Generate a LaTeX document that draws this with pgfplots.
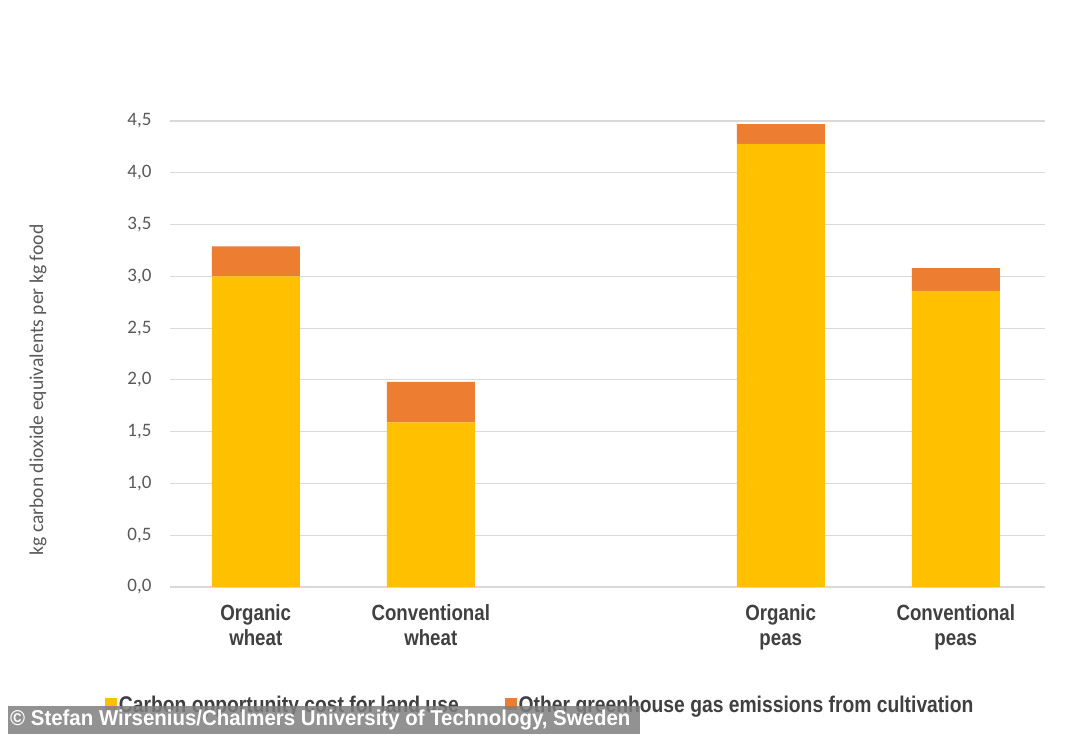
\documentclass[border=0pt]{standalone}
\usepackage{pgfplots}
\pgfplotsset{compat=1.18}
\usepackage{fontspec}
\setmainfont{Carlito}
\newfontfamily\condb{Liberation Sans}[FakeStretch=0.85]
\newfontfamily\condw{Liberation Sans}[FakeStretch=0.95]
\definecolor{cyel}{HTML}{FFC000}
\definecolor{corg}{HTML}{ED7D31}
\definecolor{txtgray}{HTML}{595959}
\definecolor{lbl}{HTML}{404040}
\definecolor{gridc}{HTML}{D9D9D9}
\begin{document}
\begin{tikzpicture}[x=1pt,y=1pt]
\path[use as bounding box, fill=white] (0,0) rectangle (1080,746);
\begin{axis}[
  at={(170pt,159pt)}, anchor=south west,
  scale only axis, width=875pt, height=466pt,
  ybar stacked, bar width=88pt,
  xmin=-0.49, xmax=4.51, ymin=0, ymax=4.5,
  xtick={0,1,3,4},
  xticklabels={Organic\\wheat, Conventional\\wheat, Organic\\peas, Conventional\\peas},
  xticklabel style={align=center, font=\condb\bfseries\fontsize{22}{25}\selectfont, text=lbl, yshift=-14pt},
  ytick={0,0.5,1,1.5,2,2.5,3,3.5,4,4.5},
  yticklabel style={font=\fontsize{19}{21}\selectfont, text=txtgray, xshift=-15pt},
  /pgf/number format/.cd, fixed, fixed zerofill, precision=1, use comma, assume math mode=true,
  /pgfplots/.cd,
  ymajorgrids, grid style={draw=gridc, line width=1.2pt},
  axis line style={draw=none}, major tick length=0pt,
  legend columns=2,
  legend style={draw=none, fill=none, at={(0.423,-0.253)}, anchor=center,
    font=\condb\bfseries\fontsize{22.7}{26}\selectfont, text=lbl,
    /tikz/every even column/.append style={column sep=44pt}},
  legend image code/.code={\fill[#1] (-5pt,-5pt) rectangle (7pt,7pt);},
]
\addplot[fill=cyel, draw=none] coordinates {(0,3.00) (1,1.59) (3,4.28) (4,2.86)};
\addplot[fill=corg, draw=none] coordinates {(0,0.29) (1,0.39) (3,0.19) (4,0.22)};
\legend{Carbon opportunity cost for land use, Other greenhouse gas emissions from cultivation}
\end{axis}
\node[rotate=90, text=txtgray, font=\fontsize{19.6}{22}\selectfont] at (38,356) {kg carbon dioxide equivalents per kg food};
\fill[gray, opacity=0.85] (8,12) rectangle (640,40);
\node[text=white, font=\condw\bfseries\fontsize{21.5}{24}\selectfont, anchor=west, inner sep=0pt] at (10,26) {© Stefan Wirsenius/Chalmers University of Technology, Sweden};
\end{tikzpicture}
\end{document}
